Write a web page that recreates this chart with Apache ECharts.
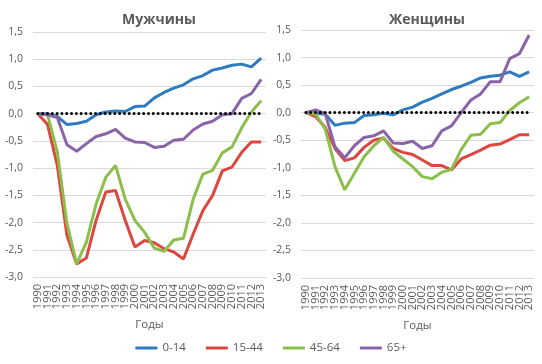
<!DOCTYPE html>
<html><head><meta charset="utf-8">
<script src="https://cdn.jsdelivr.net/npm/echarts@6/dist/echarts.min.js"></script>
<style>html,body{margin:0;padding:0;background:#fff}#c{width:542px;height:364px}</style>
</head><body><div id="c"></div>
<script>
const years = ['1990','1991','1992','1993','1994','1995','1996','1997','1998','1999','2000','2001','2002','2003','2004','2005','2006','2007','2008','2009','2010','2011','2012','2013'];
const seriesNames = ['0-14','15-44','45-64','65+'];
const colors = ['#2E7BBF','#DC4740','#8CBE4B','#8964A9'];
const panelTitles = ['Мужчины','Женщины'];
const axisName = 'Годы';
const yTicks = [-3.0,-2.5,-2.0,-1.5,-1.0,-0.5,0.0,0.5,1.0,1.5];

const men_0_14  = [0,0,-0.05,-0.2,-0.18,-0.14,-0.02,0.03,0.05,0.04,0.13,0.14,0.29,0.39,0.47,0.53,0.64,0.70,0.80,0.84,0.89,0.91,0.86,1.02];
const men_15_44 = [0,-0.2,-0.95,-2.24,-2.76,-2.65,-1.96,-1.44,-1.41,-1.96,-2.45,-2.33,-2.37,-2.48,-2.54,-2.67,-2.21,-1.78,-1.50,-1.05,-0.98,-0.71,-0.52,-0.52];
const men_45_64 = [0,-0.02,-0.70,-2.02,-2.76,-2.36,-1.66,-1.17,-0.95,-1.57,-1.96,-2.18,-2.47,-2.53,-2.32,-2.29,-1.57,-1.11,-1.04,-0.72,-0.61,-0.26,0.03,0.24];
const men_65    = [0,-0.02,-0.07,-0.57,-0.69,-0.55,-0.42,-0.37,-0.29,-0.45,-0.52,-0.53,-0.62,-0.60,-0.49,-0.47,-0.30,-0.19,-0.14,-0.02,0.0,0.28,0.37,0.63];

const women_0_14  = [0,-0.01,-0.03,-0.23,-0.19,-0.18,-0.05,-0.04,-0.01,-0.04,0.05,0.10,0.19,0.26,0.34,0.42,0.48,0.55,0.63,0.66,0.68,0.74,0.66,0.74];
const women_15_44 = [0,-0.07,-0.27,-0.65,-0.87,-0.82,-0.63,-0.50,-0.46,-0.65,-0.72,-0.76,-0.86,-0.96,-0.96,-1.04,-0.84,-0.76,-0.68,-0.59,-0.57,-0.49,-0.40,-0.40];
const women_45_64 = [0,-0.02,-0.30,-0.98,-1.40,-1.10,-0.80,-0.60,-0.45,-0.70,-0.84,-0.98,-1.16,-1.20,-1.08,-1.03,-0.67,-0.41,-0.39,-0.20,-0.18,0.04,0.18,0.29];
const women_65    = [0,0.05,-0.02,-0.62,-0.82,-0.60,-0.45,-0.42,-0.33,-0.55,-0.56,-0.52,-0.65,-0.60,-0.33,-0.24,0.0,0.23,0.34,0.56,0.56,0.98,1.07,1.41];

const panels = [[men_0_14,men_15_44,men_45_64,men_65],[women_0_14,women_15_44,women_45_64,women_65]];
const textColor = '#595959';
const font = 'Open Sans';

const grids = [
  {left:33, right:276, top:32, bottom:87},
  {left:301, right:8, top:30, bottom:86}
];
const xAxes = [], yAxes = [], series = [];
panels.forEach((p, i) => {
  xAxes.push({
    type:'category', gridIndex:i, data:years, boundaryGap:true,
    axisLine:{show:false}, axisTick:{show:false},
    axisLabel:{interval:0, rotate:90, color:textColor, fontSize:11, fontFamily:font, margin:7, hideOverlap:false},
    name:axisName, nameLocation:'middle', nameGap:42,
    nameTextStyle:{color:textColor, fontSize:11.5, fontFamily:font}
  });
  yAxes.push({
    type:'value', gridIndex:i, min:yTicks[0], max:yTicks[yTicks.length-1], interval:0.5,
    axisLine:{show:false}, axisTick:{show:false},
    splitLine:{lineStyle:{color:'#D9D9D9', width:1}},
    axisLabel:{color:textColor, fontSize:10.5, fontFamily:font, margin:10,
      formatter:v => v.toFixed(1).replace('.', ',')}
  });
  p.forEach((d, k) => {
    const s = {
      name:seriesNames[k], type:'line', xAxisIndex:i, yAxisIndex:i, data:d,
      showSymbol:false, symbol:'none', lineStyle:{color:colors[k], width:3}, itemStyle:{color:colors[k]},
      z:3
    };
    if (k === 0) {
      s.markLine = {
        silent:true, symbol:'none', label:{show:false}, z:5,
        lineStyle:{color:'#000', type:[0.01,4.8], width:3, cap:'round'},
        data:[[{xAxis:years[0], yAxis:0},{xAxis:years[years.length-1], yAxis:0}]]
      };
    }
    series.push(s);
  });
});

const chart = echarts.init(document.getElementById('c'), null, {renderer:'canvas'});
chart.setOption({
  animation:false,
  textStyle:{fontFamily:font},
  title:[
    {text:panelTitles[0], left:154, top:8, textAlign:'center', textStyle:{color:textColor, fontSize:14, fontWeight:'bold', fontFamily:font}},
    {text:panelTitles[1], left:422, top:8, textAlign:'center', textStyle:{color:textColor, fontSize:14, fontWeight:'bold', fontFamily:font}}
  ],
  legend:{
    data:seriesNames, bottom:5, left:'center', icon:'rect', itemWidth:22, itemHeight:3, itemGap:20,
    textStyle:{color:textColor, fontSize:11.5, fontFamily:font}
  },
  grid:grids, xAxis:xAxes, yAxis:yAxes, series:series
});
</script></body></html>
